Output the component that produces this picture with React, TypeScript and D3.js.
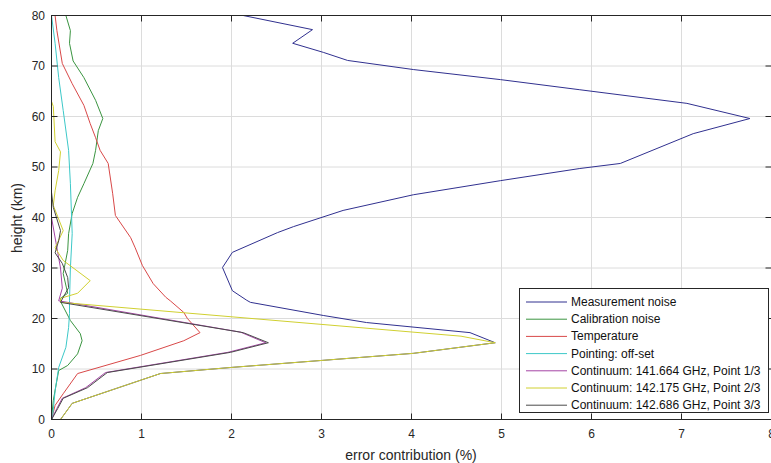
import * as d3 from 'd3'

// each series: [error contribution (%), height (km)], listed top to bottom
const measurementNoise: [number, number][] = [
  [2.13, 80], [2.9, 77.2], [2.68, 74.5], [3.02, 72.7], [3.29, 71.1], [4.02, 69.3], [4.99, 67.3],
  [5.87, 65.3], [7.06, 62.6], [7.76, 59.6], [7.13, 56.6], [6.32, 50.7], [5.87, 49.7], [4.99, 47.3],
  [4.02, 44.5], [3.24, 41.4], [2.69, 38.2], [2.51, 37], [2.01, 33.1], [1.9, 30.1], [2.01, 25.5],
  [2.17, 23.6], [2.21, 23.2], [3.02, 20.6], [3.5, 19.2], [4.65, 17.2], [4.93, 15.2], [4.02, 13.1],
  [1.99, 10.3], [1.21, 9.1], [0.23, 3.2], [0.1, 0],
]
const calibrationNoise: [number, number][] = [
  [0.16, 80], [0.21, 77], [0.2, 74.5], [0.24, 71], [0.36, 67.7], [0.49, 63.2], [0.57, 59.6],
  [0.52, 57.2], [0.49, 53.3], [0.46, 50.7], [0.36, 46.7], [0.29, 44], [0.23, 40.8], [0.19, 36.8],
  [0.18, 33.5], [0.13, 28.9], [0.18, 25], [0.1, 24], [0.1, 23.4], [0.21, 19.6], [0.32, 17],
  [0.34, 15.6], [0.29, 13], [0.18, 10.7], [0.08, 9.7], [0.02, 3.8], [0, 0],
]
const temperature: [number, number][] = [
  [0.04, 80], [0.06, 77], [0.12, 70.5], [0.23, 66.5], [0.36, 62.2], [0.43, 58.6], [0.49, 55.8],
  [0.54, 53.3], [0.63, 50.7], [0.68, 44.7], [0.71, 40.4], [0.88, 36], [0.93, 34], [1.01, 30.5],
  [1.13, 26.9], [1.27, 24.2], [1.32, 23.5], [1.47, 21.2], [1.51, 20], [1.65, 17.2], [1.47, 15.6],
  [0.99, 12.7], [0.29, 9.1], [0.13, 5.1], [0.04, 2.8], [0, 0],
]
const pointingOffset: [number, number][] = [
  [0, 80], [0.04, 74.5], [0.08, 67.7], [0.13, 61.2], [0.19, 53.3], [0.21, 46.7], [0.23, 36.8],
  [0.21, 30], [0.2, 23.6], [0.2, 21], [0.19, 18.2], [0.16, 14.3], [0.08, 10.3], [0.04, 5.7], [0.01, 0],
]
const continuum1: [number, number][] = [
  [0, 80], [0, 40], [0.05, 35], [0.1, 30], [0.12, 26], [0.08, 23.5], [2.1, 17.3], [2.38, 15.2],
  [1.96, 13.3], [0.6, 9.3], [0.38, 6.3], [0.12, 4.2], [0.06, 2.2], [0, 0],
]
const continuum2: [number, number][] = [
  [0, 80], [0, 63], [0.02, 62], [0.04, 55], [0.1, 53], [0.08, 49.3], [0.04, 45.3], [0.02, 42.4],
  [0.13, 37.4], [0.04, 34], [0.13, 31.5], [0.43, 27.5], [0.29, 25], [0.1, 24], [0.1, 23.2],
  [4.55, 16.5], [4.93, 15.2], [4.02, 13.1], [1.99, 10.3], [1.21, 9.1], [0.23, 3.2], [0.1, 0],
]
const continuum3: [number, number][] = [
  [0, 80], [0, 45], [0.02, 42], [0.1, 37.4], [0.08, 35.4], [0.04, 33], [0.12, 30.9], [0.18, 28.1],
  [0.19, 26.1], [0.13, 24.2], [0.1, 23.2], [2.13, 17.2], [2.41, 15.2], [1.99, 13.3], [0.62, 9.3],
  [0.4, 6.3], [0.13, 4.2], [0.07, 2.2], [0, 0],
]

const seriesNames = [
  'Measurement noise',
  'Calibration noise',
  'Temperature',
  'Pointing: off-set',
  'Continuum: 141.664 GHz, Point 1/3',
  'Continuum: 142.175 GHz, Point 2/3',
  'Continuum: 142.686 GHz, Point 3/3',
]
const seriesData = [measurementNoise, calibrationNoise, temperature, pointingOffset, continuum1, continuum2, continuum3]
const seriesColors = ['#30308f', '#3a9440', '#d84848', '#3cc8c8', '#a444a4', '#d0d030', '#4a4a4a']

const xTicks = [0, 1, 2, 3, 4, 5, 6, 7, 8]
const yTicks = [0, 10, 20, 30, 40, 50, 60, 70, 80]

const W = 771
const H = 463
const left = 51.5
const right = 771.5
const top = 15.5
const bottom = 419.5
const font = 'Liberation Sans, Arial, sans-serif'
const axisColor = '#262626'

export default function App() {
  const x = d3.scaleLinear().domain([0, 8]).range([left, right])
  const y = d3.scaleLinear().domain([0, 80]).range([bottom, top])
  const line = d3
    .line<[number, number]>()
    .x((d) => x(d[0]))
    .y((d) => y(d[1]))

  const legX = 519.5
  const legY = 288.5
  const legW = 249
  const rowH = 17.2

  return (
    <svg width={W} height={H} style={{ position: 'fixed', left: 0, top: 0, background: '#fff' }}>
      <defs>
        <clipPath id="plot">
          <rect x={left} y={top} width={right - left} height={bottom - top} />
        </clipPath>
      </defs>
      {/* grid */}
      {xTicks.map((t) => (
        <line key={'gx' + t} x1={x(t)} x2={x(t)} y1={top} y2={bottom} stroke="#dcdcdc" />
      ))}
      {yTicks.map((t) => (
        <line key={'gy' + t} x1={left} x2={right} y1={y(t)} y2={y(t)} stroke="#dcdcdc" />
      ))}
      {/* series */}
      <g clipPath="url(#plot)">
        {seriesData.map((d, i) => (
          <path key={i} d={line(d) || ''} fill="none" stroke={seriesColors[i]} strokeWidth={1} />
        ))}
      </g>
      {/* box + ticks */}
      <rect x={left} y={top} width={right - left} height={bottom - top} fill="none" stroke={axisColor} />
      {xTicks.map((t) => (
        <g key={'tx' + t}>
          <line x1={x(t)} x2={x(t)} y1={bottom} y2={bottom - 6} stroke={axisColor} />
          <line x1={x(t)} x2={x(t)} y1={top} y2={top + 6} stroke={axisColor} />
          <text x={x(t)} y={438} textAnchor="middle" fontFamily={font} fontSize={12} fill={axisColor}>
            {t}
          </text>
        </g>
      ))}
      {yTicks.map((t) => (
        <g key={'ty' + t}>
          <line x1={left} x2={left + 6} y1={y(t)} y2={y(t)} stroke={axisColor} />
          <line x1={right} x2={right - 6} y1={y(t)} y2={y(t)} stroke={axisColor} />
          <text x={45} y={y(t) + 4} textAnchor="end" fontFamily={font} fontSize={12} fill={axisColor}>
            {t}
          </text>
        </g>
      ))}
      <text x={411} y={460} textAnchor="middle" fontFamily={font} fontSize={14} fill={axisColor}>
        error contribution (%)
      </text>
      <text
        transform={`translate(22,218) rotate(-90)`}
        textAnchor="middle"
        fontFamily={font}
        fontSize={14}
        fill={axisColor}
      >
        height (km)
      </text>
      {/* legend */}
      <rect x={legX} y={legY} width={legW} height={124} fill="#fff" stroke={axisColor} />
      {seriesNames.map((name, i) => {
        const ry = legY + 13.5 + i * rowH
        return (
          <g key={name}>
            <line x1={526} x2={567} y1={ry} y2={ry} stroke={seriesColors[i]} />
            <text x={571} y={ry + 4} fontFamily={font} fontSize={12} fill="#111">
              {name}
            </text>
          </g>
        )
      })}
    </svg>
  )
}
